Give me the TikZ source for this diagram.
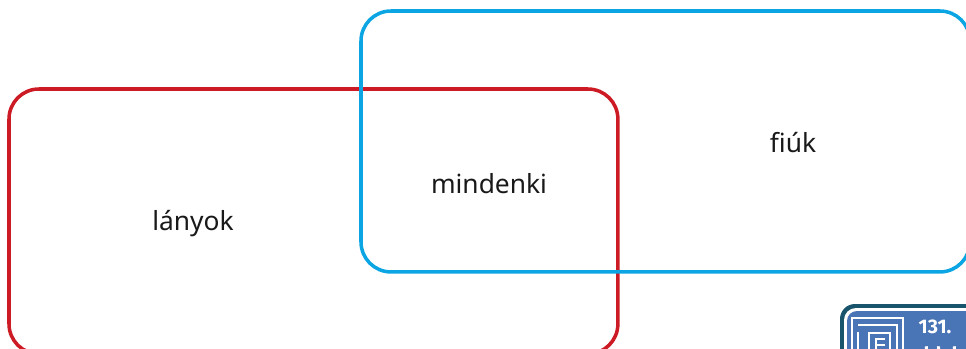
\documentclass[tikz,border=0pt]{standalone}
\usepackage{fontspec}
\setmainfont{Noto Sans}
\newfontfamily\badgefont{Fira Sans}
\usetikzlibrary{positioning}
\definecolor{halmazred}{RGB}{204,27,36}
\definecolor{halmazblue}{RGB}{10,165,226}
\definecolor{badgeteal}{RGB}{24,84,107}
\definecolor{badgeblue}{RGB}{73,117,182}
\tikzset{halmaz/.style={draw,line width=2pt,rounded corners=0.6cm,minimum width=12.18cm,anchor=north west,outer sep=0pt},
  felirat/.style={font=\fontsize{15pt}{18pt}\selectfont,text=black!90,inner sep=0pt},
  maze/.style={draw=white,line width=1.1pt}}
\begin{document}
\begin{tikzpicture}[x=0.02cm,y=-0.02cm]
\useasboundingbox (0,0) rectangle (966,348);
\clip (0,0) rectangle (966,348);
\node[halmaz,draw=halmazred,minimum height=5.3cm] (lanyok box) at (9,89) {};
\node[halmaz,draw=halmazblue,minimum height=5.22cm] (fiuk box) at (361,11) {};
\node[felirat] (lanyok) at (193,224) {lányok};
\node[felirat] (mindenki) at (489,184) {mindenki};
\node[felirat] (fiuk) at (793,143) {fiúk};
% badge
\fill[badgeteal,rounded corners=0.3cm] (840,304) rectangle (1000,380);
\fill[white,rounded corners=0.24cm] (844,308) rectangle (1000,380);
\fill[badgeblue,rounded corners=0.2cm] (847,311) rectangle (1000,380);
\draw[maze] (852,350) -- (852,318) -- (903,318) -- (903,350);
\draw[maze] (858,325) -- (897,325) -- (897,350);
\draw[maze] (858,332) -- (858,350);
\draw[maze] (869,350) -- (869,333) -- (890,333) -- (890,350);
\draw[maze] (876,350) -- (876,339) -- (885,339);
\draw[maze] (876,345) -- (885,345);
\node[inner sep=0pt,text=white,font=\badgefont\fontsize{11.2pt}{15.5pt}\selectfont\bfseries,align=center,anchor=north] (oldal) at (935,320) {131.\\oldal};
\end{tikzpicture}
\end{document}
